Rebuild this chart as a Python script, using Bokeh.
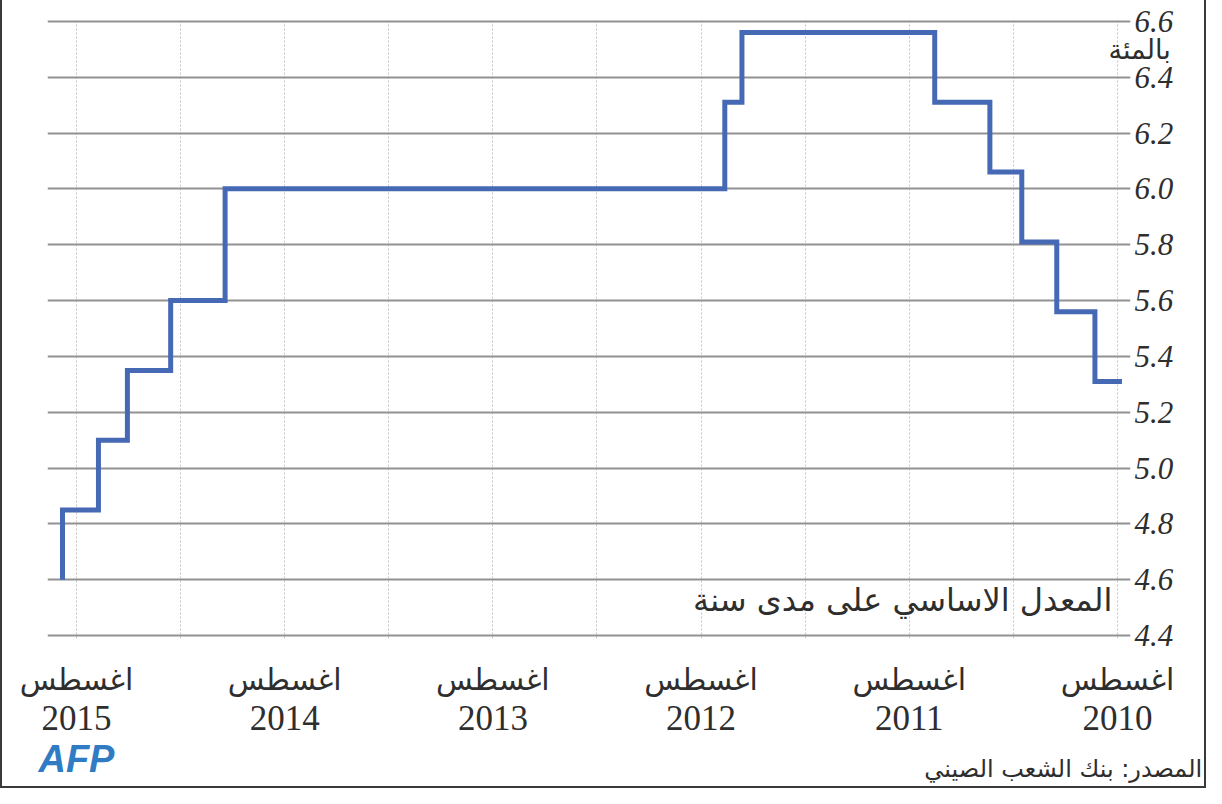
import calendar
from bokeh.plotting import figure
from bokeh.models import (Range1d, LinearAxis, FixedTicker, PrintfTickFormatter,
                          Grid, Label)
from bokeh.embed import file_html
from bokeh.resources import INLINE

# ---------------- data ----------------
change_dates = ["2010-07-24", "2010-09-10", "2010-11-16", "2011-01-17", "2011-03-12",
                "2011-06-17", "2012-05-21", "2012-06-20", "2014-11-14", "2015-02-17",
                "2015-05-03", "2015-06-23", "2015-08-26"]
rates = [5.31, 5.56, 5.81, 6.06, 6.31, 6.56, 6.31, 6.00, 5.60, 5.35, 5.10, 4.85, 4.60]

tick_years = [2010, 2011, 2012, 2013, 2014, 2015]
month_label = "اغسطس"
y_ticks = [4.4, 4.6, 4.8, 5.0, 5.2, 5.4, 5.6, 5.8, 6.0, 6.2, 6.4, 6.6]

unit_label = "بالمئة"
series_label = "المعدل الاساسي على مدى سنة"
source_label = "المصدر: بنك الشعب الصيني"
logo_label = "AFP"


def month_pos(s):
    """months since Jan 2010 (fractional)"""
    y, m, d = map(int, s.split("-"))
    return (y - 2010) * 12 + (m - 1) + (d - 1) / calendar.monthrange(y, m)[1]


xs = [month_pos(d) for d in change_dates]
aug_ticks = [(y - 2010) * 12 + 7 for y in tick_years]
grid_ticks = [t for y in tick_years for t in ((y - 2010) * 12 + 7, (y - 2010) * 12 + 13)
              if t <= aug_ticks[-1]]

TEXT = "#2e2e2e"
ARABIC = "DejaVu Sans"
SERIF = "Liberation Serif"

p = figure(width=1206, height=788,
           x_range=Range1d(68.67, 6.25), y_range=Range1d(4.39, 6.61),
           output_backend="svg", toolbar_location=None,
           x_axis_location=None, y_axis_location=None,
           min_border_left=45, min_border_right=78,
           min_border_top=18, min_border_bottom=150,
           outline_line_color=None, background_fill_color="white",
           border_fill_color="white")
for g in p.grid:
    g.visible = False

p.styles = {"border-left": "2px solid #3a3a3a", "border-right": "2px solid #3a3a3a",
            "border-bottom": "2px solid #3a3a3a", "box-sizing": "border-box"}

p.add_layout(Grid(dimension=0, ticker=FixedTicker(ticks=grid_ticks),
                  grid_line_color="#c4c4c4", grid_line_width=1, grid_line_dash="2 2"))
p.add_layout(Grid(dimension=1, ticker=FixedTicker(ticks=y_ticks),
                  grid_line_color="#929292", grid_line_width=2))


def bare_axis(**kw):
    return LinearAxis(axis_line_color=None, major_tick_line_color=None,
                      minor_tick_line_color=None, major_tick_in=0, major_tick_out=0,
                      minor_tick_in=0, minor_tick_out=0, **kw)


# right value axis
yax = bare_axis(ticker=FixedTicker(ticks=y_ticks),
                formatter=PrintfTickFormatter(format="%.1f"),
                major_label_standoff=4,
                major_label_text_font=SERIF, major_label_text_font_size="31px",
                major_label_text_font_style="italic", major_label_text_color=TEXT)
p.add_layout(yax, "right")

# unit text ("per cent") placed under 6.6
UNIT_AT = 6.5
unit_ax = bare_axis(ticker=FixedTicker(ticks=[UNIT_AT]),
                    major_label_overrides={UNIT_AT: unit_label},
                    major_label_standoff=-68,
                    major_label_text_font=ARABIC, major_label_text_font_size="27px",
                    major_label_text_color=TEXT)
p.add_layout(unit_ax, "right")

# bottom axes: month names and years
mon_ax = bare_axis(ticker=FixedTicker(ticks=aug_ticks),
                   major_label_overrides={t: month_label for t in aug_ticks},
                   major_label_standoff=23,
                   major_label_text_font=ARABIC, major_label_text_font_size="30px",
                   major_label_text_color=TEXT)
yr_ax = bare_axis(ticker=FixedTicker(ticks=aug_ticks),
                  major_label_overrides={t: str(y) for t, y in zip(aug_ticks, tick_years)},
                  major_label_standoff=6,
                  major_label_text_font=SERIF, major_label_text_font_size="35px",
                  major_label_text_color=TEXT)
p.add_layout(mon_ax, "below")
p.add_layout(yr_ax, "below")

# footer: source (right) and AFP logo (left), on one row
SOURCE_AT = 10.125
LOGO_AT = 67.0
src_ax = bare_axis(ticker=FixedTicker(ticks=[SOURCE_AT]),
                   major_label_overrides={SOURCE_AT: source_label},
                   major_label_standoff=22,
                   major_label_text_font=ARABIC, major_label_text_font_size="24px",
                   major_label_text_color=TEXT)
logo_ax = bare_axis(ticker=FixedTicker(ticks=[LOGO_AT]),
                    major_label_overrides={LOGO_AT: logo_label},
                    major_label_standoff=-48,
                    major_label_text_font="Liberation Sans",
                    major_label_text_font_size="38px",
                    major_label_text_font_style="bold italic",
                    major_label_text_color="#2f7cc4")
p.add_layout(src_ax, "below")
p.add_layout(logo_ax, "below")

p.step(x=xs, y=rates, mode="after", line_color="#4669b5", line_width=5,
       line_join="miter")

p.add_layout(Label(x=7.29, y=4.528, text=series_label, text_align="right",
                   text_baseline="middle", text_font=ARABIC, text_font_size="32px",
                   text_color=TEXT))

open("out.html", "w").write(file_html(p, INLINE))
